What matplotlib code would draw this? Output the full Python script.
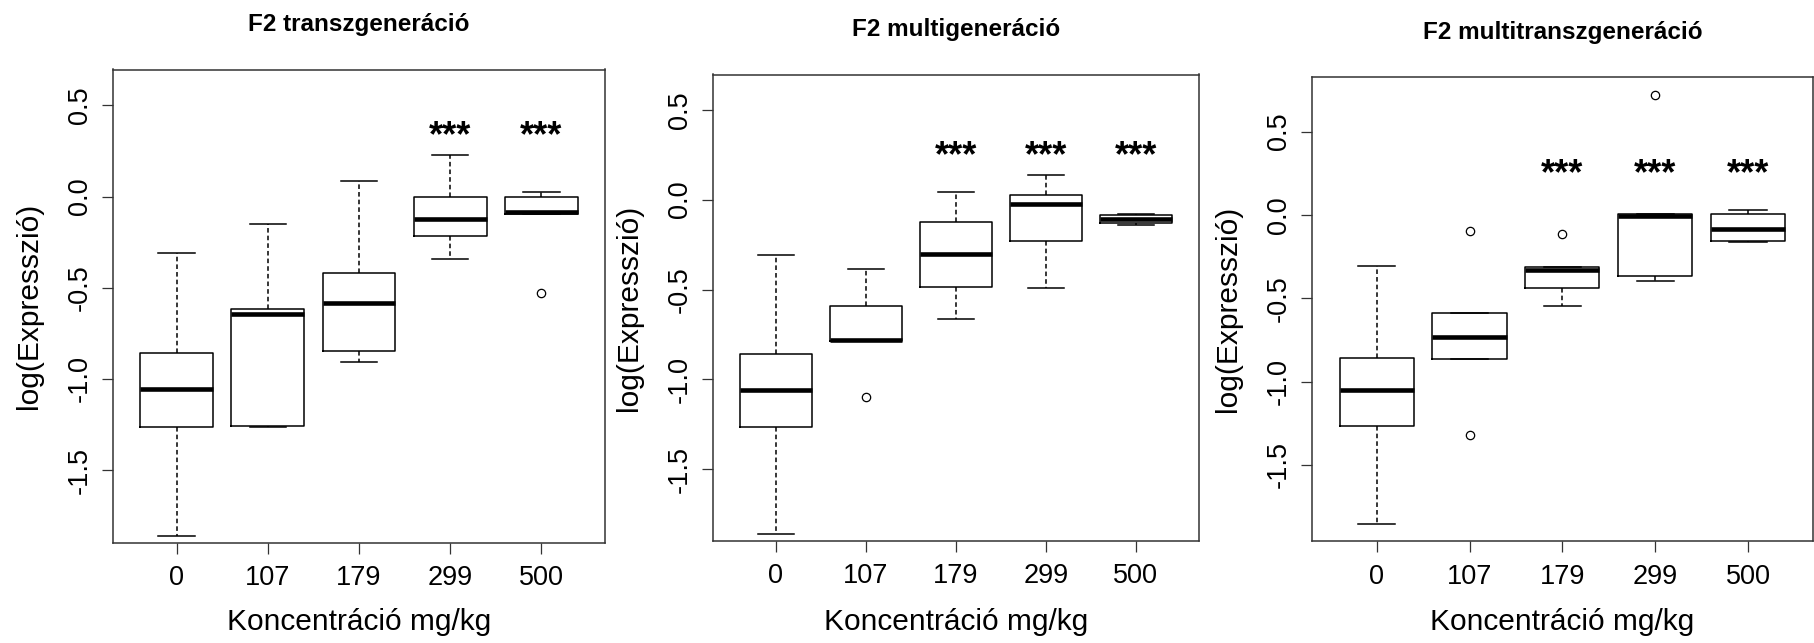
import matplotlib.pyplot as plt
import numpy as np

plt.rcParams['font.family'] = ['Liberation Sans', 'DejaVu Sans']

concentrations = ["0", "107", "179", "299", "500"]
yTicks = [-1.5, -1.0, -0.5, 0.0, 0.5]
xLabel = "Koncentráció mg/kg"
yLabel = "log(Expresszió)"

# F2 transzgeneráció
transzTitle = "F2 transzgeneráció"
transzWhisLo = [-1.862, -1.262, -0.905, -0.343, -0.096]
transzQ1 = [-1.262, -1.255, -0.847, -0.218, -0.096]
transzMed = [-1.054, -0.643, -0.581, -0.125, -0.086]
transzQ3 = [-0.858, -0.615, -0.421, 0.000, 0.000]
transzWhisHi = [-0.308, -0.151, 0.083, 0.230, 0.026]
transzFliers = [[], [], [], [], [-0.531]]
transzStars = ["", "", "", "***", "***"]

# F2 multigeneráció
multiTitle = "F2 multigeneráció"
multiWhisLo = [-1.862, -0.786, -0.663, -0.491, -0.141]
multiQ1 = [-1.262, -0.786, -0.485, -0.231, -0.130]
multiMed = [-1.056, -0.780, -0.300, -0.026, -0.109]
multiQ3 = [-0.859, -0.593, -0.122, 0.028, -0.087]
multiWhisHi = [-0.306, -0.388, 0.043, 0.137, -0.081]
multiFliers = [[], [-1.100], [], [], []]
multiStars = ["", "", "***", "***", "***"]

# F2 multitranszgeneráció
mtTitle = "F2 multitranszgeneráció"
mtWhisLo = [-1.855, -0.866, -0.543, -0.397, -0.164]
mtQ1 = [-1.265, -0.866, -0.435, -0.363, -0.158]
mtMed = [-1.052, -0.731, -0.329, -0.006, -0.086]
mtQ3 = [-0.857, -0.589, -0.311, 0.004, 0.004]
mtWhisHi = [-0.308, -0.589, -0.311, 0.004, 0.032]
mtFliers = [[], [-0.098, -1.317], [-0.112], [0.718], []]
mtStars = ["", "", "***", "***", "***"]

W, H = 1814, 643
fig = plt.figure(figsize=(W / 100, H / 100), dpi=100)


def pixRect(left, top, right, bottom):
    return [left / W, 1 - bottom / H, (right - left) / W, (bottom - top) / H]


def drawPanel(box, title, whisLo, q1, med, q3, whisHi, fliers, stars, starY, yLim):
    left, top, right, bottom = box
    ax = fig.add_axes(pixRect(left, top, right, bottom))
    stats = []
    for i in range(len(concentrations)):
        stats.append({"whislo": whisLo[i], "q1": q1[i], "med": med[i],
                      "q3": q3[i], "whishi": whisHi[i], "fliers": fliers[i]})
    ax.bxp(stats, positions=range(1, 6), widths=0.8, capwidths=0.4,
           boxprops=dict(color="black", linewidth=1.1),
           medianprops=dict(color="black", linewidth=3.3, solid_capstyle="butt"),
           whiskerprops=dict(color="black", linewidth=1.1, linestyle=(0, (3.0, 2.0))),
           capprops=dict(color="black", linewidth=1.1),
           flierprops=dict(marker="o", markersize=6, markerfacecolor="none",
                           markeredgecolor="black", markeredgewidth=0.9))
    # significance marks
    for i, s in enumerate(stars):
        if s:
            ax.text(i + 1, starY, s, ha="center", va="center", fontsize=26,
                    fontweight="bold")

    ax.set_xlim(0.3, 5.7)
    ax.set_ylim(yLim)
    ax.set_xticks(range(1, 6))
    ax.set_xticklabels(concentrations)
    ax.set_yticks(yTicks)
    ax.set_yticklabels(["{:.1f}".format(v) for v in yTicks], rotation=90, va="center")
    ax.tick_params(axis="both", direction="out", length=7.9, width=0.9,
                   color="#333333", labelsize=19.5)
    ax.tick_params(axis="x", pad=8.5)
    ax.tick_params(axis="y", pad=6.5)
    for sp in ax.spines.values():
        sp.set_color("#333333")
        sp.set_linewidth(1.1)

    ax.set_xlabel(xLabel, fontsize=21.5)
    ax.xaxis.set_label_coords(0.5, -(630 - bottom) / (bottom - top))
    ax.xaxis.label.set_va("baseline")
    ax.set_ylabel(yLabel, fontsize=21.5)
    ax.yaxis.set_label_coords(-76 / (right - left), 0.5)
    ax.yaxis.label.set_va("baseline")

    fig.text((left + right) / 2 / W, 1 - (top - 38.5) / H, title,
             ha="center", va="baseline", fontsize=17.5, fontweight="bold")
    return ax


drawPanel((112.7, 69.5, 605.3, 542.5), transzTitle, transzWhisLo, transzQ1, transzMed,
          transzQ3, transzWhisHi, transzFliers, transzStars, 0.33, (-1.896, 0.696))
drawPanel((712.7, 74.5, 1198.7, 540.6), multiTitle, multiWhisLo, multiQ1, multiMed,
          multiQ3, multiWhisHi, multiFliers, multiStars, 0.238, (-1.896, 0.696))
drawPanel((1311.7, 77, 1813, 541), mtTitle, mtWhisLo, mtQ1, mtMed,
          mtQ3, mtWhisHi, mtFliers, mtStars, 0.241, (-1.956, 0.828))

fig.savefig("out.png", dpi=100, facecolor="white")
